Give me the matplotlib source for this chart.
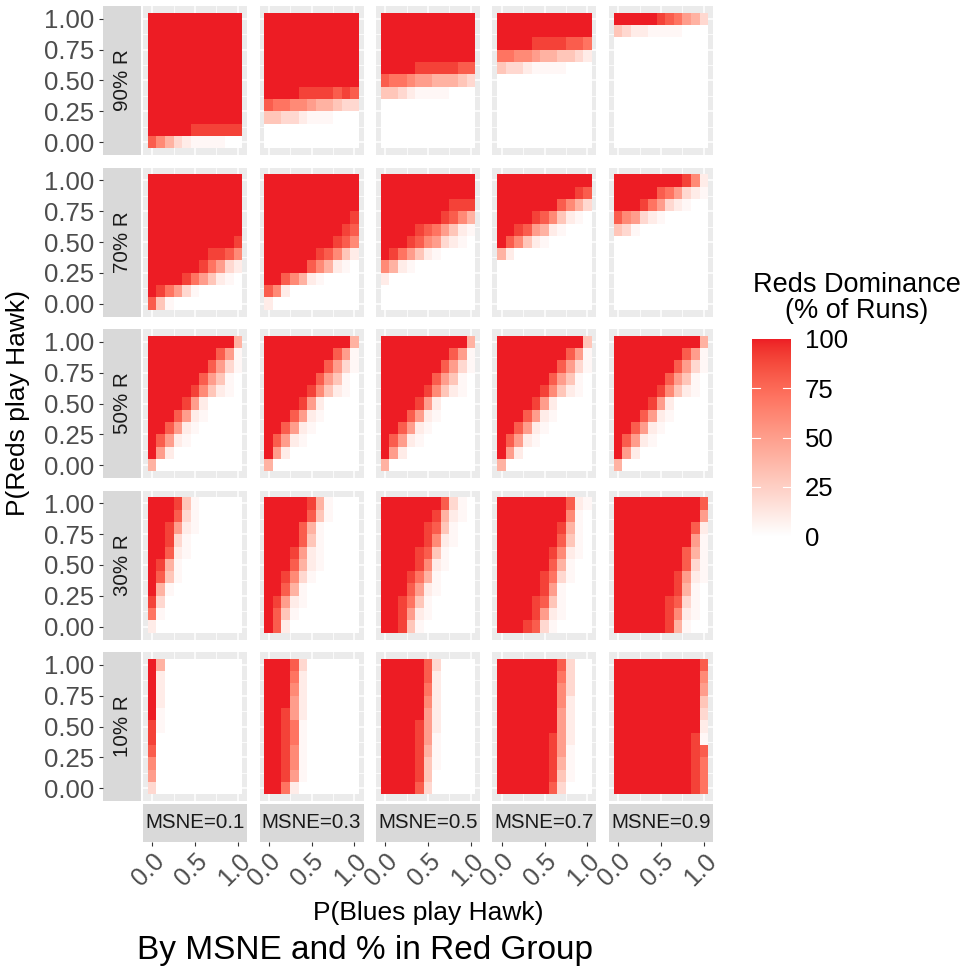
import numpy as np
import matplotlib.pyplot as plt
from matplotlib.colors import ListedColormap

plt.rcParams['font.family'] = ['Liberation Sans', 'DejaVu Sans']

# grid of probabilities used in the simulations
probs = [0.0, 0.1, 0.2, 0.3, 0.4, 0.5, 0.6, 0.7, 0.8, 0.9, 1.0]
msne_values = [0.1, 0.3, 0.5, 0.7, 0.9]
red_shares = [90, 70, 50, 30, 10]
legend_breaks = [0, 25, 50, 75, 100]

# % of runs where reds dominate, one character per cell
# '.' = 0, ',' = ~4, '1'..'9' = 10..90, '#' = 100
# rows run from P(Reds)=1.0 at the top down to 0.0
tone = {'.': 0, ',': 4, '#': 100}
tone.update({str(d): 10 * d for d in range(1, 10)})

red90 = [
    ["###########", "###########", "###########", "###########", "###########", "###########",
     "###########", "###########", "###########", "#####999999", "86421,,,,.."],
    ["###########", "###########", "###########", "###########", "###########", "###########",
     "####9999898", "87766544322", "33221,,,...", "...........", "..........."],
    ["###########", "###########", "###########", "###########", "####9999988", "87765544432",
     "3321,,,,...", "...........", "...........", "...........", "..........."],
    ["###########", "###########", "####9999887", "77665443321", "3221,,,,...", "...........",
     "...........", "...........", "...........", "...........", "..........."],
    ["#####987542", "3211,,,,...", "...........", "...........", "...........", "...........",
     "...........", "...........", "...........", "...........", "..........."],
]

red70 = [
    ["###########", "###########", "###########", "###########", "###########", "##########9",
     "#######9986", "######97521", "####97531,.", "#9752,.....", "83,........"],
    ["###########", "###########", "###########", "##########9", "#########98", "########986",
     "######98631", "#####8641,.", "##8641,....", "861........", "1.........."],
    ["###########", "###########", "########999", "#######9864", "####987531,", "###986521,.",
     "#97531,....", "641,.......", "1..........", "...........", "..........."],
    ["###########", "#########98", "#######8642", "####98631,.", "##98541,...", "#8631,.....",
     "41.........", "...........", "...........", "...........", "..........."],
    ["########961", "#####87521,", "###97521,..", "86521,.....", "32,........", "...........",
     "...........", "...........", "...........", "...........", "..........."],
]

red50 = [
    ["##########4", "########85,", "#######852,", "######853,.", "#####9631,.", "####951....",
     "###851,....", "##851,.....", "#851,......", "#51........", "4.........."],
    ["##########4", "########85,", "#######852,", "######853,.", "#####9631,.", "####951....",
     "###851,....", "##851,.....", "#851,......", "#51........", "4.........."],
    ["##########4", "########85,", "#######852,", "######853,.", "#####9631,.", "####951....",
     "###851,....", "##851,.....", "#851,......", "#51........", "4.........."],
    ["##########3", "########85,", "#######852,", "######853,.", "#####9631,.", "####951....",
     "###851,....", "##851,.....", "#851,......", "#51........", "4.........."],
    ["##########4", "########85,", "#######852,", "######853,.", "#####9631,.", "####951....",
     "###851,....", "##851,.....", "#851,......", "#51........", "4.........."],
]

red30 = [
    ["###93,.....", "###82,.....", "##951,.....", "##92,......", "##81,......", "#94,.......",
     "#83,.......", "#4,........", "92.........", "7,.........", "1.........."],
    ["#####94,...", "#####83,...", "####84,....", "####83,....", "###951,....", "###841,....",
     "##962,.....", "##84,......", "#951,......", "#83,.......", "#81........"],
    ["#######82,.", "######941,.", "#####983,..", "#####961,..", "####983,...", "####961,...",
     "###974,....", "###851,....", "##973,.....", "##951,.....", "##93,......"],
    ["########81,", "########6,.", "#######94,.", "#######83,.", "######961,.", "######84,..",
     "#####972,..", "#####95,...", "####983,...", "####951,...", "###982,...."],
    ["##########8", "##########5", "#########81", "#########5,", "########84,", "########82,",
     "#######951,", "#######94,.", "######982,.", "######961,.", "######94,.."],
]

red10 = [
    ["#4.........", "#1.........", "#1.........", "#1.........", "#,.........", "9,.........",
     "9..........", "8..........", "6..........", "5..........", "2.........."],
    ["###82......", "###71......", "###61......", "###51......", "##951......", "##97,......",
     "##97,......", "##96,......", "##96,......", "##95,......", "##71......."],
    ["#####82....", "#####81....", "#####71....", "#####61....", "#####51....", "####951....",
     "####95,....", "####94,....", "####93,....", "####93.....", "####82....."],
    ["#######82..", "#######72..", "#######62..", "#######61..", "#######51..", "#######51..",
     "######951..", "######95,..", "######94,..", "######93,..", "######82..."],
    ["##########8", "##########6", "##########5", "##########3", "##########2", "##########1",
     "#########9,", "#########98", "#########97", "#########97", "#########97"],
]

facet_rows = [red90, red70, red50, red30, red10]


# white -> red gradient interpolated in CIE Lab
M = np.array([[0.4124, 0.3576, 0.1805],
              [0.2126, 0.7152, 0.0722],
              [0.0193, 0.1192, 0.9505]])
WHITE_PT = np.array([0.95047, 1.0, 1.08883])


def to_lab(rgb):
    c = np.asarray(rgb, float)
    lin = np.where(c > 0.04045, ((c + 0.055) / 1.055) ** 2.4, c / 12.92)
    xyz = M @ lin / WHITE_PT
    f = np.where(xyz > 0.008856, np.cbrt(xyz), 7.787 * xyz + 16 / 116)
    return np.array([116 * f[1] - 16, 500 * (f[0] - f[1]), 200 * (f[1] - f[2])])


def from_lab(lab):
    L, a, b = lab
    fy = (L + 16) / 116
    f = np.array([fy + a / 500, fy, fy - b / 200])
    xyz = np.where(f ** 3 > 0.008856, f ** 3, (f - 16 / 116) / 7.787) * WHITE_PT
    lin = np.clip(np.linalg.solve(M, xyz), 0, 1)
    return np.where(lin > 0.0031308, 1.055 * lin ** (1 / 2.4) - 0.055, 12.92 * lin)


lo, hi = to_lab([1, 1, 1]), to_lab(np.array([237, 28, 36]) / 255)
cmap = ListedColormap([from_lab(lo + t * (hi - lo)) for t in np.linspace(0, 1, 256)])

W, H = 968, 976
fig = plt.figure(figsize=(W / 100, H / 100), dpi=100)


def px_axes(x, y, w, h):
    return fig.add_axes([x / W, 1 - (y + h) / H, w / W, h / H])


edges = np.append(np.array(probs) - 0.05, probs[-1] + 0.05)
lims = (-0.105, 1.105)
pw, ph = 104, 149
strip_col = '#D9D9D9'

for r, panels in enumerate(facet_rows):
    top = 6 + 161.5 * r
    for c, rows in enumerate(panels):
        left = 143 + 116.5 * c
        z = np.array([[tone[ch] for ch in row] for row in rows[::-1]])
        ax = px_axes(left, top, pw, ph)
        ax.set_facecolor('#EBEBEB')
        ax.pcolormesh(edges, edges, z, cmap=cmap, vmin=0, vmax=100)
        ax.set_xlim(lims)
        ax.set_ylim(lims)
        ax.set_xticks([0, 0.5, 1])
        ax.set_xticks([0.25, 0.75], minor=True)
        ax.set_yticks([0, 0.25, 0.5, 0.75, 1])
        ax.set_yticks([0.125, 0.375, 0.625, 0.875], minor=True)
        ax.grid(which='major', color='white', linewidth=1.1)
        ax.grid(which='minor', color='white', linewidth=0.55)
        ax.set_axisbelow(True)
        ax.tick_params(which='both', length=0, labelbottom=False, labelleft=False)
        for s in ax.spines.values():
            s.set_visible(False)

    # row strip on the left, with the y axis outside it
    sax = px_axes(103, top, 38, ph)
    sax.set_facecolor(strip_col)
    sax.set_ylim(lims)
    sax.set_xticks([])
    sax.set_yticks([0, 0.25, 0.5, 0.75, 1])
    sax.set_yticklabels(['0.00', '0.25', '0.50', '0.75', '1.00'])
    sax.tick_params(axis='y', length=3, width=0.8, color='#333333',
                    labelsize=18.5, labelcolor='#4D4D4D', pad=3.5)
    for s in sax.spines.values():
        s.set_visible(False)
    sax.text(0.5, 0.5, f'{red_shares[r]}% R', transform=sax.transAxes, rotation=90,
             ha='center', va='center', fontsize=14.8, color='#1A1A1A')

# column strips at the bottom, with the x axis below them
for c, m in enumerate(msne_values):
    left = 143 + 116.5 * c
    bax = px_axes(left, 804, pw, 38)
    bax.set_facecolor(strip_col)
    bax.set_xlim(lims)
    bax.set_yticks([])
    bax.set_xticks([0, 0.5, 1])
    bax.set_xticklabels(['0.0', '0.5', '1.0'])
    bax.tick_params(axis='x', length=3, width=0.8, color='#333333',
                    labelsize=18, labelcolor='#4D4D4D', pad=2)
    plt.setp(bax.get_xticklabels(), rotation=45, ha='right', rotation_mode='anchor')
    for s in bax.spines.values():
        s.set_visible(False)
    bax.text(0.5, 0.5, f'MSNE={m}', transform=bax.transAxes,
             ha='center', va='center', fontsize=14.8, color='#1A1A1A')

# colour bar legend
cax = px_axes(752, 339, 39, 197)
grad = np.linspace(0, 100, 256).reshape(-1, 1)
cax.imshow(grad, cmap=cmap, aspect='auto', origin='lower', extent=(0, 1, 0, 100))
cax.set_xlim(0, 1)
cax.set_ylim(0, 100)
cax.set_xticks([])
cax.set_yticks(legend_breaks)
cax.yaxis.tick_right()
cax.tick_params(axis='y', length=0, labelsize=18.5, pad=10)
for v in legend_breaks[1:-1]:
    cax.plot([0, 0.2], [v, v], color='white', linewidth=0.8)
    cax.plot([0.8, 1], [v, v], color='white', linewidth=0.8)
for s in cax.spines.values():
    s.set_visible(False)

fig.text(857 / W, 1 - 298 / H, 'Reds Dominance\n(% of Runs)', ha='center', va='center',
         fontsize=19.5, linespacing=1.05)
fig.text(428 / W, 1 - 913 / H, 'P(Blues play Hawk)', ha='center', va='center', fontsize=19)
fig.text(18 / W, 1 - 403 / H, 'P(Reds play Hawk)', rotation=90, ha='center', va='center',
         fontsize=19)
fig.text(137 / W, 1 - 951 / H, 'By MSNE and % in Red Group', ha='left', va='center',
         fontsize=24)

fig.savefig('out.png', dpi=100)
